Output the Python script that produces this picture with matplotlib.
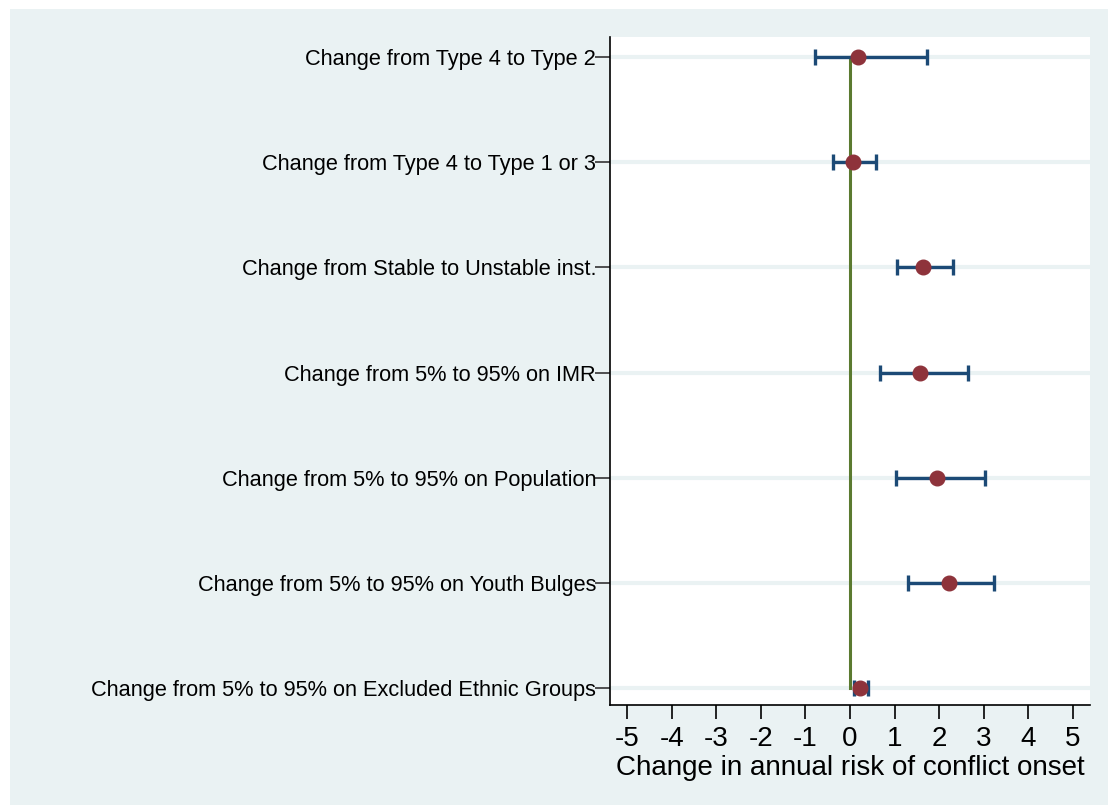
import numpy as np
import matplotlib.pyplot as plt

plt.rcParams['font.family'] = ['Liberation Sans', 'DejaVu Sans']

labels = ['Change from Type 4 to Type 2',
          'Change from Type 4 to Type 1 or 3',
          'Change from Stable to Unstable inst.',
          'Change from 5% to 95% on IMR',
          'Change from 5% to 95% on Population',
          'Change from 5% to 95% on Youth Bulges',
          'Change from 5% to 95% on Excluded Ethnic Groups']
est = [0.18, 0.07, 1.64, 1.57, 1.96, 2.22, 0.23]
lo = [-0.79, -0.38, 1.06, 0.67, 1.03, 1.30, 0.09]
hi = [1.74, 0.58, 2.31, 2.65, 3.03, 3.24, 0.40]
xticks = np.arange(-5, 6)

bg = '#eaf2f3'
fig = plt.figure(figsize=[11.08, 8.05], dpi=100, facecolor=bg)
# thin white border on the left and top, as in the original export
fig.patches.append(plt.Rectangle((0, 0), 10/1108, 1, transform=fig.transFigure,
                                 facecolor='white', edgecolor='none', zorder=-10))
fig.patches.append(plt.Rectangle((0, 1 - 9/805), 1, 9/805, transform=fig.transFigure,
                                 facecolor='white', edgecolor='none', zorder=-10))
ax = fig.add_axes([610/1108, 1 - 705/805, 480/1108, 668/805])
ax.set_facecolor('white')

y = np.arange(len(labels), 0, -1)
est = np.array(est)
lo = np.array(lo)
hi = np.array(hi)

for yy in y:
    ax.axhline(yy, color=bg, lw=3, zorder=0)
ax.plot([0, 0], [y.min(), y.max()], color='#5b7a30', lw=2.2, zorder=1)
ax.errorbar(est, y, xerr=[est - lo, hi - est], fmt='none', ecolor='#1c4a76',
            elinewidth=2.4, capsize=6, capthick=2.4, zorder=2)
ax.plot(est, y, 'o', color='#8e333b', ms=10.5, zorder=3)

ax.set_xlim(-5.39, 5.39)
ax.set_ylim(0.84, 7.19)
ax.set_xticks(xticks)
ax.set_xticklabels([str(t) for t in xticks], fontsize=20)
ax.set_yticks(y)
ax.set_yticklabels(labels, fontsize=15.7)
ax.tick_params(axis='x', length=10, width=1.2, pad=5)
ax.tick_params(axis='y', length=11, width=1.2, pad=-1, color='#333333')
ax.set_xlabel('Change in annual risk of conflict onset', fontsize=20, labelpad=2)
for s in ['top', 'right']:
    ax.spines[s].set_visible(False)
for s in ['left', 'bottom']:
    ax.spines[s].set_linewidth(1.2)

plt.savefig('out.png', dpi=100, facecolor=bg)
